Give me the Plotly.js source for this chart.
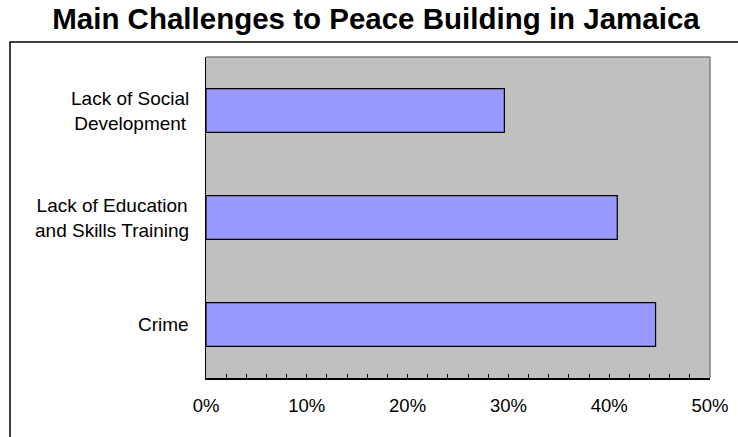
<!DOCTYPE html>
<html>
<head>
<meta charset="utf-8">
<script src="https://cdn.plot.ly/plotly-3.0.1.min.js"></script>
<style>html,body{margin:0;padding:0;background:#fff;}#chart{width:738px;height:437px;}</style>
</head>
<body>
<div id="chart"></div>
<script>
// Data (bottom to top)
const categories = ["Crime", "Lack of Education and Skills Training", "Lack of Social Development"];
const categoryLabels = ["Crime", "Lack of Education<br>and Skills Training", "Lack of Social<br>Development"];
const values = [0.446, 0.408, 0.296];
const titleText = "Main Challenges to Peace Building in Jamaica";

const W = 738, H = 437;
const mL = 206, mR = 28, mT = 57, mB = 59;
const pw = W - mL - mR, ph = H - mT - mB;
const px = v => (v - mL) / pw;
const py = v => (H - mB - v) / ph;

const font = {family: "Liberation Sans, Arial, sans-serif", size: 18.5, color: "#000"};
const catFont = {family: "Liberation Sans, Arial, sans-serif", size: 19, color: "#000"};

const trace = {
  type: "bar",
  orientation: "h",
  y: categories,
  x: values,
  width: 0.41,
  marker: {color: "#9999FF", line: {color: "#000", width: 1.2}},
  hoverinfo: "none"
};

const annotations = categories.map((c, i) => ({
  xref: "paper", yref: "y", x: px(191), y: c,
  xanchor: "right", yanchor: "middle", align: "center",
  text: categoryLabels[i], showarrow: false, font: catFont
}));

const layout = {
  width: W, height: H,
  margin: {l: mL, r: mR, t: mT, b: mB, pad: 0},
  paper_bgcolor: "#fff",
  plot_bgcolor: "#C0C0C0",
  showlegend: false,
  font: font,
  title: {
    text: "<b>" + titleText + "</b>",
    font: {family: "Liberation Sans, Arial, sans-serif", size: 29.5, color: "#000"},
    x: 376 / W, xanchor: "center", xref: "container",
    y: 1 - 19 / H, yanchor: "middle", yref: "container"
  },
  xaxis: {
    range: [0, 0.5], dtick: 0.1, tick0: 0, tickformat: ".0%",
    showgrid: false, zeroline: false,
    showline: true, linecolor: "#000", linewidth: 1.5,
    ticks: "inside", ticklen: 4, tickcolor: "#000", tickwidth: 1,
    ticklabelstandoff: 10,
    minor: {dtick: 0.02, ticks: "inside", ticklen: 4, tickcolor: "#000", tickwidth: 1, showgrid: false},
    tickfont: font, fixedrange: true
  },
  yaxis: {
    type: "category",
    showticklabels: false, ticks: "",
    showgrid: false, zeroline: false,
    showline: true, linecolor: "#000", linewidth: 1.5,
    fixedrange: true
  },
  annotations: annotations,
  shapes: [
    {type: "line", xref: "paper", yref: "paper", x0: 0, x1: 1, y0: 1, y1: 1, line: {color: "#808080", width: 1.5}},
    {type: "line", xref: "paper", yref: "paper", x0: 1, x1: 1, y0: 0, y1: 1, line: {color: "#808080", width: 1.5}},
    {type: "rect", xref: "paper", yref: "paper", x0: px(10), x1: px(745), y0: py(445), y1: py(42),
     line: {color: "#000", width: 1.5}, fillcolor: "rgba(0,0,0,0)", layer: "above"}
  ]
};

Plotly.newPlot("chart", [trace], layout, {displayModeBar: false, staticPlot: true});
</script>
</body>
</html>
